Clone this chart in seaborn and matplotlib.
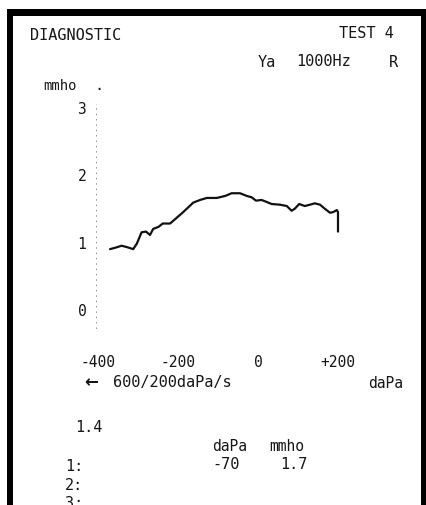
import matplotlib
matplotlib.use("Agg")
import matplotlib.pyplot as plt
import seaborn as sns
import pandas as pd
from matplotlib.patches import Rectangle

# ---- data ----
pressure_dapa = [-370, -357, -341, -328, -312, -303, -291, -280, -270, -262,
                 -249, -238, -220, -212, -187, -162, -145, -128, -103, -82,
                 -66, -45, -28, -16, -5, 9, 22, 34, 55, 72,
                 84, 92, 103, 117, 130, 142, 155, 167, 180, 188,
                 197, 200, 200]
admittance_mmho = [0.89, 0.91, 0.94, 0.92, 0.89, 0.97, 1.14, 1.15, 1.10, 1.19,
                   1.22, 1.27, 1.27, 1.31, 1.44, 1.58, 1.62, 1.65, 1.65, 1.68,
                   1.72, 1.72, 1.68, 1.66, 1.61, 1.62, 1.59, 1.56, 1.55, 1.53,
                   1.46, 1.49, 1.56, 1.53, 1.55, 1.57, 1.55, 1.49, 1.43, 1.44,
                   1.47, 1.44, 1.15]
x_ticks = [-400, -200, 0, 200]
x_tick_labels = ["-400", "-200", "0", "+200"]
y_ticks = [0, 1, 2, 3]
y_tick_labels = ["0", "1", "2", "3"]

df = pd.DataFrame({"daPa": pressure_dapa, "mmho": admittance_mmho})

sns.set_theme(style="white")
plt.rcParams["font.family"] = ["DejaVu Sans Mono", "DejaVu Sans"]

W, H = 427, 506
fig = plt.figure(figsize=(W / 100, H / 100), dpi=100)
fig.patch.set_facecolor("white")

def fx(px):
    return px / W

def fy(py):
    return 1 - py / H

# axes: x pixel = 258 + 0.4*daPa ; y pixel = 310 - 67.3*mmho
x_left_px, x_right_px = 96, 380
y_top_px, y_bot_px = 100, 332
xlim = ((x_left_px - 258) / 0.4, (x_right_px - 258) / 0.4)
ylim = ((310 - y_bot_px) / 67.3, (310 - y_top_px) / 67.3)
ax = fig.add_axes([fx(x_left_px), fy(y_bot_px), (x_right_px - x_left_px) / W,
                   (y_bot_px - y_top_px) / H])
ax.set_facecolor("none")

sns.lineplot(data=df, x="daPa", y="mmho", sort=False, estimator=None,
             color="#111111", linewidth=1.6, ax=ax)
ax.set_xlim(*xlim)
ax.set_ylim(*ylim)
for s in ax.spines.values():
    s.set_visible(False)

# dotted y axis
ax.plot([xlim[0] + 1, xlim[0] + 1], [ylim[0] + 0.03, 3.05], linestyle=(0, (1, 2.5)),
        color="#7a7a7a", linewidth=1.1)

tc = "#161616"
ax.set_xticks(x_ticks)
ax.set_xticklabels(x_tick_labels, fontsize=10.5, color=tc)
ax.set_yticks(y_ticks)
ax.set_yticklabels(y_tick_labels, fontsize=10.5, color=tc)
ax.tick_params(axis="x", length=0, pad=16.5)
ax.tick_params(axis="y", length=1.5, width=1.5, color="#444444", pad=7, direction="in")
ax.set_xlabel("")
ax.set_ylabel("")
ax.grid(False)

# texts
fs = 11
fig.text(fx(30), fy(35), "DIAGNOSTIC", fontsize=fs, color=tc, va="center", ha="left")
fig.text(fx(394), fy(34), "TEST 4", fontsize=fs, color=tc, va="center", ha="right")
fig.text(fx(258), fy(63), "Ya", fontsize=fs, color=tc, va="center", ha="left")
fig.text(fx(296), fy(62), "1000Hz", fontsize=fs, color=tc, va="center", ha="left")
fig.text(fx(398), fy(63), "R", fontsize=fs, color=tc, va="center", ha="right")
fig.text(fx(43), fy(86), "mmho", fontsize=fs - 1, color=tc, va="center", ha="left")
fig.text(fx(99), fy(85), ".", fontsize=fs, color=tc, va="center", ha="center")
fig.text(fx(84), fy(382), "\u2190", fontsize=fs + 1, color=tc, va="center", ha="left",
         fontweight="bold", family="DejaVu Sans")
fig.text(fx(113), fy(383), "600/200daPa/s", fontsize=fs, color=tc, va="center", ha="left")
fig.text(fx(403), fy(384), "daPa", fontsize=fs - 0.5, color=tc, va="center", ha="right")
fig.text(fx(75), fy(428), "1.4", fontsize=fs, color=tc, va="center", ha="left")
fig.text(fx(212), fy(447), "daPa", fontsize=fs - 0.5, color=tc, va="center", ha="left")
fig.text(fx(269), fy(447), "mmho", fontsize=fs - 0.5, color=tc, va="center", ha="left")
fig.text(fx(65), fy(467), "1:", fontsize=fs, color=tc, va="center", ha="left")
fig.text(fx(212), fy(465), "-70", fontsize=fs, color=tc, va="center", ha="left")
fig.text(fx(308), fy(465), "1.7", fontsize=fs, color=tc, va="center", ha="right")
fig.text(fx(65), fy(486), "2:", fontsize=fs, color=tc, va="center", ha="left")
fig.text(fx(65), fy(504), "3:", fontsize=fs, color=tc, va="center", ha="left")

# black frame
frame = dict(facecolor="black", edgecolor="none", transform=fig.transFigure, zorder=10)
fig.patches.append(Rectangle((fx(7), fy(17)), 1 - fx(7), 7 / H, **frame))
fig.patches.append(Rectangle((fx(7), 0), 6 / W, fy(10), **frame))
fig.patches.append(Rectangle((fx(421), 0), 6 / W, fy(10), **frame))

fig.savefig("out.png", dpi=100, facecolor="white")
